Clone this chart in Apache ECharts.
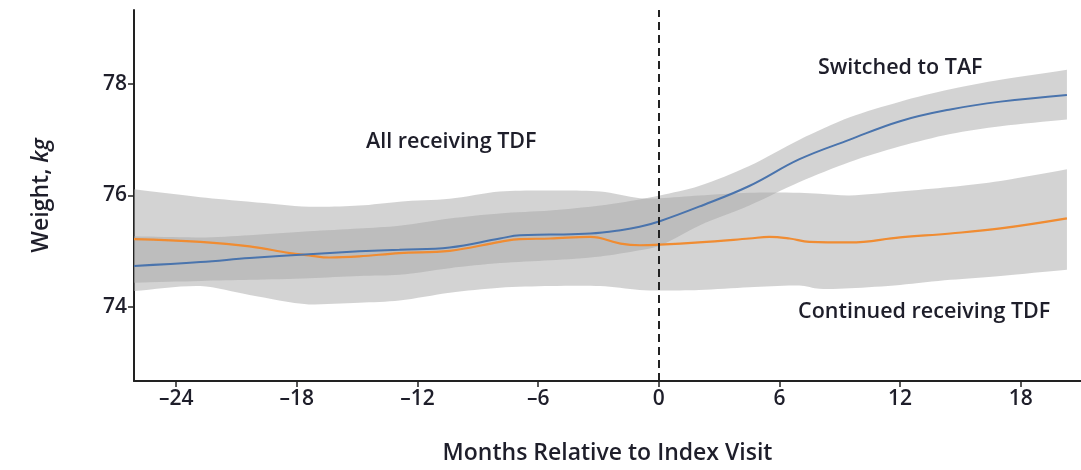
<!DOCTYPE html>
<html><head><meta charset="utf-8">
<script src="https://cdn.jsdelivr.net/npm/echarts@6/dist/echarts.min.js"></script>
<style>html,body{margin:0;padding:0;background:#fff}#c{width:1081px;height:470px}</style>
</head><body><div id="c"></div>
<script>
// ---- data ----
const xTicks = [-24, -18, -12, -6, 0, 6, 12, 18];
const yTicks = [74, 76, 78];

// Switched to TAF (blue) line
const tafMonths = [-26.1, -22.8, -20.35, -17.4, -14.9, -12.9, -10.4, -7.9, -6.9, -5.4, -3.4, -1.9, -0.95, 0.05, 2.0, 4.5, 7.0, 9.5, 12.0, 14.5, 17.0, 20.3];
const tafWeight = [74.74, 74.81, 74.88, 74.95, 75.0, 75.03, 75.07, 75.23, 75.29, 75.30, 75.32, 75.38, 75.44, 75.54, 75.8, 76.17, 76.65, 77.0, 77.33, 77.54, 77.68, 77.8];

// Continued receiving TDF (orange) line
const tdfMonths = [-26.1, -22.8, -20.35, -18.35, -17.4, -16.4, -14.9, -12.9, -10.4, -7.9, -6.9, -5.4, -3.4, -1.9, -0.95, 0.05, 2.0, 4.5, 5.5, 6.5, 7.5, 9.5, 12.0, 14.5, 17.0, 20.3];
const tdfWeight = [75.22, 75.17, 75.09, 74.97, 74.93, 74.89, 74.91, 74.97, 75.01, 75.17, 75.22, 75.23, 75.26, 75.14, 75.11, 75.12, 75.16, 75.23, 75.26, 75.23, 75.17, 75.16, 75.25, 75.32, 75.41, 75.59];

// 95% bands
const tafBandMonths = [-26.1, -22.8, -20.35, -17.4, -14.9, -12.9, -10.4, -7.9, -5.4, -2.9, -0.95, 0.05, 2.0, 4.5, 7.0, 9.5, 12.0, 14.5, 17.0, 20.3];
const tafBandLow  = [74.44, 74.47, 74.49, 74.52, 74.56, 74.58, 74.70, 74.79, 74.84, 74.91, 75.02, 75.10, 75.46, 75.82, 76.24, 76.60, 76.88, 77.10, 77.24, 77.36];
const tafBandHigh = [75.27, 75.25, 75.29, 75.36, 75.41, 75.46, 75.59, 75.68, 75.73, 75.82, 75.93, 76.00, 76.17, 76.53, 77.00, 77.40, 77.68, 77.90, 78.07, 78.25];

const tdfBandMonths = [-26.1, -22.8, -20.35, -17.4, -14.9, -12.9, -10.4, -7.9, -5.4, -2.9, -0.95, 0.05, 2.0, 4.5, 7.0, 8.0, 9.5, 12.0, 14.5, 17.0, 20.3];
const tdfBandLow  = [74.29, 74.38, 74.22, 74.05, 74.08, 74.12, 74.26, 74.35, 74.38, 74.38, 74.31, 74.30, 74.31, 74.36, 74.39, 74.33, 74.34, 74.40, 74.49, 74.56, 74.67];
const tdfBandHigh = [76.11, 75.97, 75.89, 75.80, 75.82, 75.89, 75.94, 76.07, 76.09, 76.07, 75.95, 75.95, 76.00, 76.05, 76.05, 76.03, 76.00, 76.07, 76.15, 76.26, 76.47];

const xLabel = 'Months Relative to Index Visit';
const annotations = ['All receiving TDF', 'Switched to TAF', 'Continued receiving TDF'];

// ---- chart ----
const FONT = '"Open Sans", "Liberation Sans", sans-serif';
const TEXT = '#1e1e2a';
const chart = echarts.init(document.getElementById('c'), null, {renderer: 'canvas'});

function bandSeries(months, low, high) {
  return {
    type: 'custom',
    silent: true,
    z: 1,
    data: [[months[0], low[0]]],
    renderItem: function (params, api) {
      if (params.dataIndex !== 0) return;
      const n = months.length;
      const up = months.map((m, i) => api.coord([m, high[i]]));
      const dn = months.map((m, i) => api.coord([m, low[i]])).reverse();
      // corners are doubled so that the smoothed outline keeps square ends
      const pts = [up[0]].concat(up, [up[n - 1]], [dn[0]], dn, [dn[n - 1]]);
      let minP = [Infinity, Infinity], maxP = [-Infinity, -Infinity];
      pts.forEach(p => {
        minP = [Math.min(minP[0], p[0]), Math.min(minP[1], p[1])];
        maxP = [Math.max(maxP[0], p[0]), Math.max(maxP[1], p[1])];
      });
      return {
        type: 'polygon',
        shape: {points: pts, smooth: 0.3, smoothConstraint: [minP, maxP]},
        style: {fill: 'rgba(167,167,167,0.5)', stroke: null}
      };
    }
  };
}

const zip = (a, b) => a.map((v, i) => [v, b[i]]);
const fmt = v => String(v).replace('-', '\u2013');

chart.setOption({
  animation: false,
  grid: {left: 134, right: 0, top: 10, bottom: 87},
  xAxis: {
    type: 'value', min: -26.1, max: 21.0,
    axisLine: {show: true, onZero: false, lineStyle: {color: '#222', width: 2}},
    axisTick: {show: true, length: 6, lineStyle: {color: '#222', width: 1.5}, customValues: xTicks},
    axisLabel: {customValues: xTicks, formatter: fmt, color: TEXT, fontFamily: FONT, fontWeight: 600, fontSize: 21, margin: 8},
    splitLine: {show: false},
    name: xLabel, nameLocation: 'middle', nameGap: 61,
    nameTextStyle: {color: TEXT, fontFamily: FONT, fontWeight: 600, fontSize: 23}
  },
  yAxis: {
    type: 'value', min: 72.68, max: 79.32,
    axisLine: {show: true, onZero: false, lineStyle: {color: '#222', width: 2}},
    axisTick: {show: true, length: 6, lineStyle: {color: '#222', width: 1.5}, customValues: yTicks},
    axisLabel: {customValues: yTicks, color: TEXT, fontFamily: FONT, fontWeight: 600, fontSize: 21, margin: 7},
    splitLine: {show: false},
    name: '{a|Weight, }{b|kg}', nameLocation: 'middle', nameGap: 81, nameRotate: 90,
    nameTextStyle: {
      rich: {
        a: {color: TEXT, fontFamily: FONT, fontWeight: 600, fontSize: 23},
        b: {color: TEXT, fontFamily: FONT, fontWeight: 600, fontStyle: 'italic', fontSize: 23}
      }
    }
  },
  series: [
    bandSeries(tdfBandMonths, tdfBandLow, tdfBandHigh),
    bandSeries(tafBandMonths, tafBandLow, tafBandHigh),
    {
      type: 'line', name: 'Continued receiving TDF', data: zip(tdfMonths, tdfWeight),
      smooth: 0.4, symbol: 'none', z: 3,
      lineStyle: {color: '#f08c32', width: 2.2}
    },
    {
      type: 'line', name: 'Switched to TAF', data: zip(tafMonths, tafWeight),
      smooth: 0.4, symbol: 'none', z: 4,
      lineStyle: {color: '#4a74ad', width: 2},
      markLine: {
        silent: true, symbol: 'none', animation: false,
        label: {show: false},
        lineStyle: {color: '#222', type: [8, 5], width: 2},
        data: [{xAxis: 0}]
      }
    }
  ],
  graphic: [
    {type: 'text', left: 366, top: 131, z: 10, style: {text: annotations[0], fill: TEXT, font: '600 21.5px ' + FONT}},
    {type: 'text', left: 818, top: 57, z: 10, style: {text: annotations[1], fill: TEXT, font: '600 21.5px ' + FONT}},
    {type: 'text', left: 798, top: 301, z: 10, style: {text: annotations[2], fill: TEXT, font: '600 21.5px ' + FONT}}
  ]
});
</script>
</body></html>
